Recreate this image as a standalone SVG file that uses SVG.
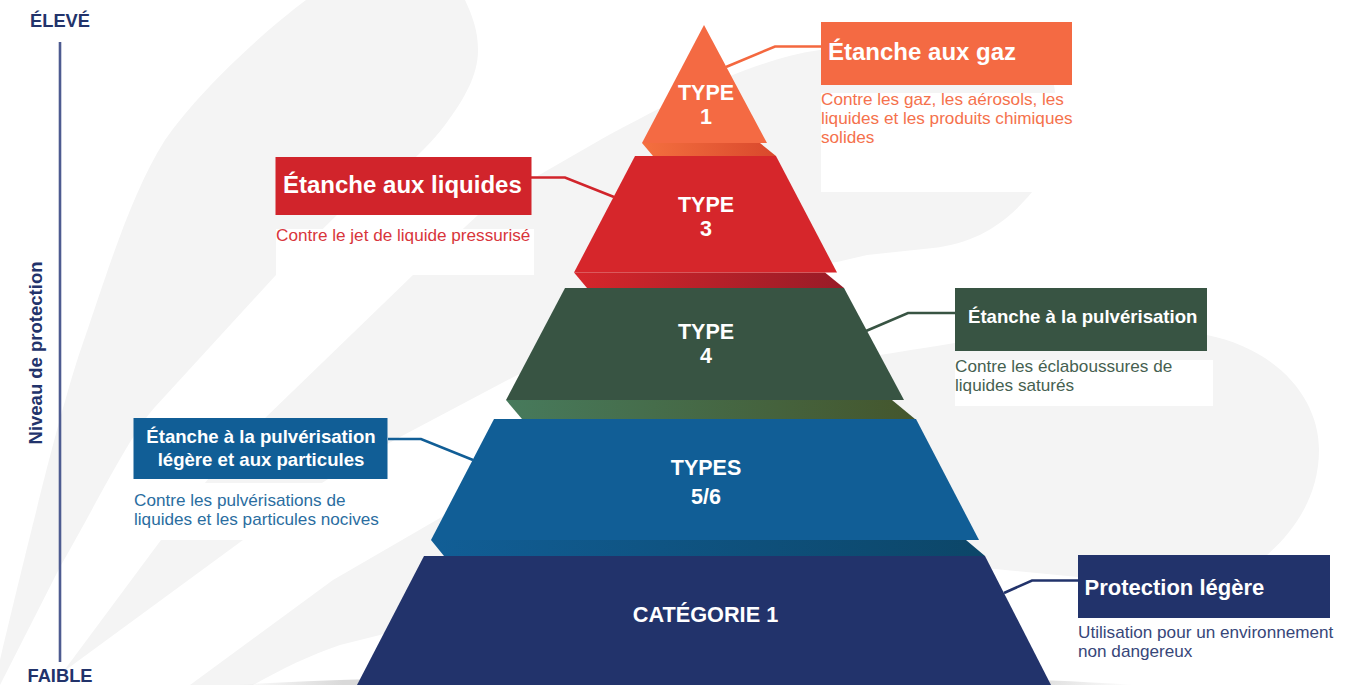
<svg xmlns="http://www.w3.org/2000/svg" width="1370" height="685" viewBox="0 0 1370 685">
<style>
text{font-family:"Liberation Sans",Arial,sans-serif}
.sw{fill:#f4f4f4}
.wh{fill:#fff}
.lv{font-weight:700;font-size:21.5px;fill:#fff;text-anchor:middle}
.h{font-weight:700;fill:#fff}
.d{font-size:17.150px}
.ax{font-weight:700;font-size:18.300px;fill:#22336b;text-anchor:middle}
.c{fill:none;stroke-width:2.6}
</style>
<defs>
<linearGradient id="gO"><stop offset="0" stop-color="#f4703f"/><stop offset="1" stop-color="#d9482c"/></linearGradient>
<linearGradient id="gR"><stop offset="0" stop-color="#d6262b"/><stop offset="1" stop-color="#981b27"/></linearGradient>
<linearGradient id="gG"><stop offset="0" stop-color="#477a5c"/><stop offset="1" stop-color="#44562d"/></linearGradient>
<linearGradient id="gB"><stop offset="0" stop-color="#115e96"/><stop offset="1" stop-color="#0c4668"/></linearGradient>
<linearGradient id="gS"><stop offset="0" stop-color="#d9d9d9" stop-opacity="0"/><stop offset=".12" stop-color="#d9d9d9"/><stop offset=".88" stop-color="#d9d9d9"/><stop offset="1" stop-color="#d9d9d9" stop-opacity="0"/></linearGradient>
</defs>

<g id="background">
<path class="sw" d="M306 0C262 33 198 92 165 140C130 195 105 280 84 340C70 380 50 450 0 660V685L60 567C100 497 130 435 155 407L276 275L337 215C380 190 421 157 445 125C465 98 478 75 478 50C478 30 472 15 465 0Z"/>
<path class="sw" d="M63 672L161 540C205 480 235 447 263 420L413 275L478 215L534 178L600 140C640 118 690 92 728 77C760 64 790 54 820 50C900 45 1040 55 1054 85C1062 130 1050 170 1032 192C1005 225 975 243 933 248L867 255L837 262C720 275 620 320 523 372L400 437C330 475 280 510 243 540Z"/>
<path class="sw" d="M190 685L333 580L440 518C560 440 720 380 868 357C960 343 1000 333 1080 330C1130 328 1170 328 1207 335C1280 350 1319 400 1319 450C1319 500 1290 535 1267 555L1200 590L1078 577L985 568C800 550 500 600 380 635L340 645C310 655 280 670 253 685Z"/>
<path fill="url(#gS)" d="M235 685Q300 681 357 679.500L1051 680.500Q1090 682 1135 685Z"/>
<rect class="wh" x="821" y="93" width="251" height="99"/>
<rect class="wh" x="276" y="229" width="258" height="46"/>
<rect class="wh" x="955" y="360" width="258" height="46"/>
<rect class="wh" x="134" y="483" width="254" height="57"/>
</g>

<g id="axis">
<line x1="60" y1="42" x2="60" y2="662" stroke="#4d5b90" stroke-width="2.600"/>
<text class="ax" x="60" y="27">ÉLEVÉ</text>
<text class="ax" x="60" y="682">FAIBLE</text>
<text class="ax" style="font-size:18.500px" transform="translate(41.500 353) rotate(-90)">Niveau de protection</text>
</g>

<g id="connectors">
<path class="c" stroke="#f4683f" d="M726 67L775 46.500H821"/>
<path class="c" stroke="#d1242b" d="M531 177.500H565L614 197"/>
<path class="c" stroke="#385443" d="M866 331L908 313H955"/>
<path class="c" stroke="#115e96" d="M388 439H421L473 460"/>
<path class="c" stroke="#22336b" d="M1004 593L1032 580.500H1078"/>
</g>

<g id="level-cat1">
<polygon fill="#22336b" points="424,556 985,556 1051,685 357,685"/>
<text class="lv" style="font-size:21.700px" x="705.500" y="622">CATÉGORIE 1</text>
</g>
<g id="level-type56">
<polygon fill="url(#gB)" points="431,540 444,556 985,556 966,540"/>
<polygon fill="#115e96" points="494,419 916,419 979,540 431,540"/>
<text class="lv" x="706" y="475">TYPES</text>
<text class="lv" x="706" y="504">5/6</text>
</g>
<g id="level-type4">
<polygon fill="url(#gG)" points="506,400 522,419 915,419 892,400"/>
<polygon fill="#385443" points="565,288 844,288 904,400 506,400"/>
<text class="lv" x="706" y="339">TYPE</text>
<text class="lv" x="706" y="363">4</text>
</g>
<g id="level-type3">
<polygon fill="url(#gR)" points="574,272.500 587,288 844,288 825,272.500"/>
<polygon fill="#d6262b" points="635,156 776,156 837,272.500 574,272.500"/>
<text class="lv" x="706" y="212">TYPE</text>
<text class="lv" x="706" y="236">3</text>
</g>
<g id="level-type1">
<polygon fill="url(#gO)" points="642,143 653,156 776,156 760,143"/>
<polygon fill="#f46a43" points="704,25 767,143 642,143"/>
<text class="lv" x="706" y="100">TYPE</text>
<text class="lv" x="706" y="124">1</text>
</g>

<g id="label-gaz">
<rect x="821" y="22" width="251" height="63" fill="#f46a43"/>
<text class="h" font-size="24" x="828" y="60">Étanche aux gaz</text>
<g class="d" fill="#f5714c"><text x="821" y="105">Contre les gaz, les aérosols, les</text><text x="821" y="124">liquides et les produits chimiques</text><text x="821" y="143">solides</text></g>
</g>
<g id="label-liquides">
<rect x="275.500" y="157" width="256" height="58" fill="#d1242b"/>
<text class="h" font-size="24" x="283" y="193">Étanche aux liquides</text>
<text class="d" fill="#d8353b" x="276" y="241">Contre le jet de liquide pressurisé</text>
</g>
<g id="label-pulverisation">
<rect x="955" y="288" width="252" height="63" fill="#385443"/>
<text class="h" font-size="18.600" x="968" y="323">Étanche à la pulvérisation</text>
<g class="d" fill="#465f50"><text x="955" y="372">Contre les éclaboussures de</text><text x="955" y="391">liquides saturés</text></g>
</g>
<g id="label-particules">
<rect x="133.500" y="418" width="254" height="61" fill="#115e96"/>
<text class="h" font-size="18.600" text-anchor="middle" x="261" y="443">Étanche à la pulvérisation</text>
<text class="h" font-size="18.600" text-anchor="middle" x="261" y="466">légère et aux particules</text>
<g class="d" fill="#2a6d9f"><text x="134" y="506">Contre les pulvérisations de</text><text x="134" y="525">liquides et les particules nocives</text></g>
</g>
<g id="label-legere">
<rect x="1078" y="555" width="252" height="63" fill="#22336b"/>
<text class="h" font-size="22" x="1084.500" y="595">Protection légère</text>
<g class="d" fill="#374679"><text x="1078" y="638">Utilisation pour un environnement</text><text x="1078" y="657">non dangereux</text></g>
</g>
</svg>
